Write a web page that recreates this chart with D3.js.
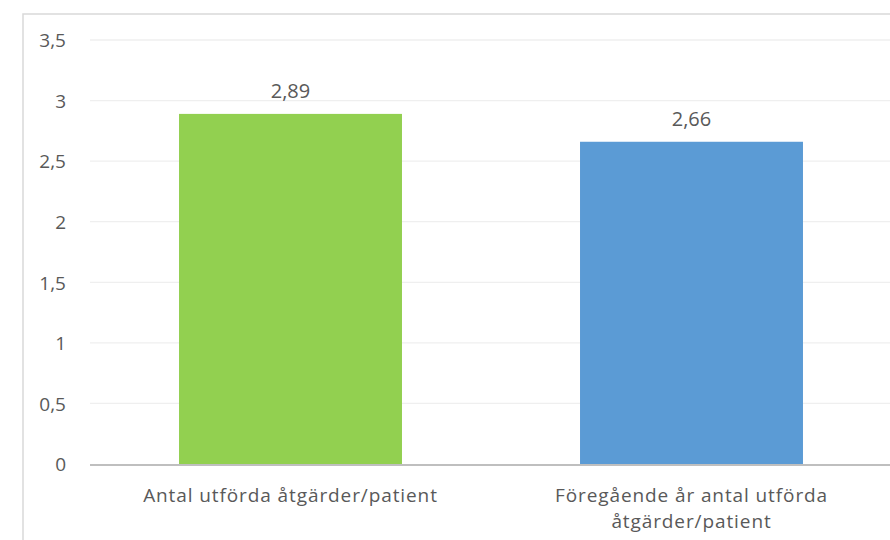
<!DOCTYPE html>
<html><head><meta charset="utf-8">
<script src="https://cdn.jsdelivr.net/npm/d3@7"></script>
<style>body{margin:0;background:#fff}svg{display:block}text{font-family:"Open Sans","Liberation Sans",sans-serif;fill:#595959}</style>
</head><body>
<svg id="c" width="890" height="540"></svg>
<script>
const categories = [["Antal utförda åtgärder/patient"], ["Föregående år antal utförda", "åtgärder/patient"]];
const values = [2.89, 2.66];
const labels = ["2,89", "2,66"];
const colors = ["#92d050", "#5b9bd5"];
const yTicks = [0, 0.5, 1, 1.5, 2, 2.5, 3, 3.5];
const yTickLabels = ["0", "0,5", "1", "1,5", "2", "2,5", "3", "3,5"];

const svg = d3.select("#c");
svg.append("rect").attr("x", 23).attr("y", 14).attr("width", 900).attr("height", 600)
  .attr("fill", "#fff").attr("stroke", "#d9d9d9").attr("stroke-width", 1.5);

const x = d3.scaleBand().domain([0, 1]).range([90, 892]).paddingInner(0.444).paddingOuter(0.222);
const y = d3.scaleLinear().domain([0, 3.5]).range([464, 40]);

const g = svg.append("g");
g.selectAll("line.grid").data(yTicks.slice(1)).join("line").attr("class", "grid")
  .attr("x1", 90).attr("x2", 892).attr("y1", d => y(d)).attr("y2", d => y(d))
  .attr("stroke", "#efefef").attr("stroke-width", 1.3);

const yAxis = d3.axisLeft(y).tickValues(yTicks).tickFormat((d, i) => yTickLabels[i]).tickSize(0).tickPadding(0);
const ya = g.append("g").attr("transform", "translate(66,0)").call(yAxis);
ya.select(".domain").remove();
ya.selectAll("text").style("font-size", "19px").style("font-family", "'Open Sans', sans-serif").attr("fill", "#595959").attr("dy", "0.36em");

g.selectAll("rect.bar").data(values).join("rect").attr("class", "bar")
  .attr("x", (d, i) => x(i)).attr("width", x.bandwidth())
  .attr("y", d => y(d)).attr("height", d => y(0) - y(d))
  .attr("fill", (d, i) => colors[i]);

g.append("line").attr("x1", 90).attr("x2", 892).attr("y1", y(0) + 1).attr("y2", y(0) + 1)
  .attr("stroke", "#bfbfbf").attr("stroke-width", 2.2);

g.selectAll("text.val").data(values).join("text").attr("class", "val")
  .attr("x", (d, i) => x(i) + x.bandwidth() / 2).attr("y", d => y(d) - 16)
  .attr("text-anchor", "middle").style("font-size", "20px").text((d, i) => labels[i]);

categories.forEach((lines, i) => {
  lines.forEach((t, j) => {
    g.append("text").attr("x", x(i) + x.bandwidth() / 2).attr("y", 502 + j * 26)
      .attr("text-anchor", "middle").style("font-size", "19px").style("letter-spacing", "0.9px").text(t);
  });
});
</script>
</body></html>
